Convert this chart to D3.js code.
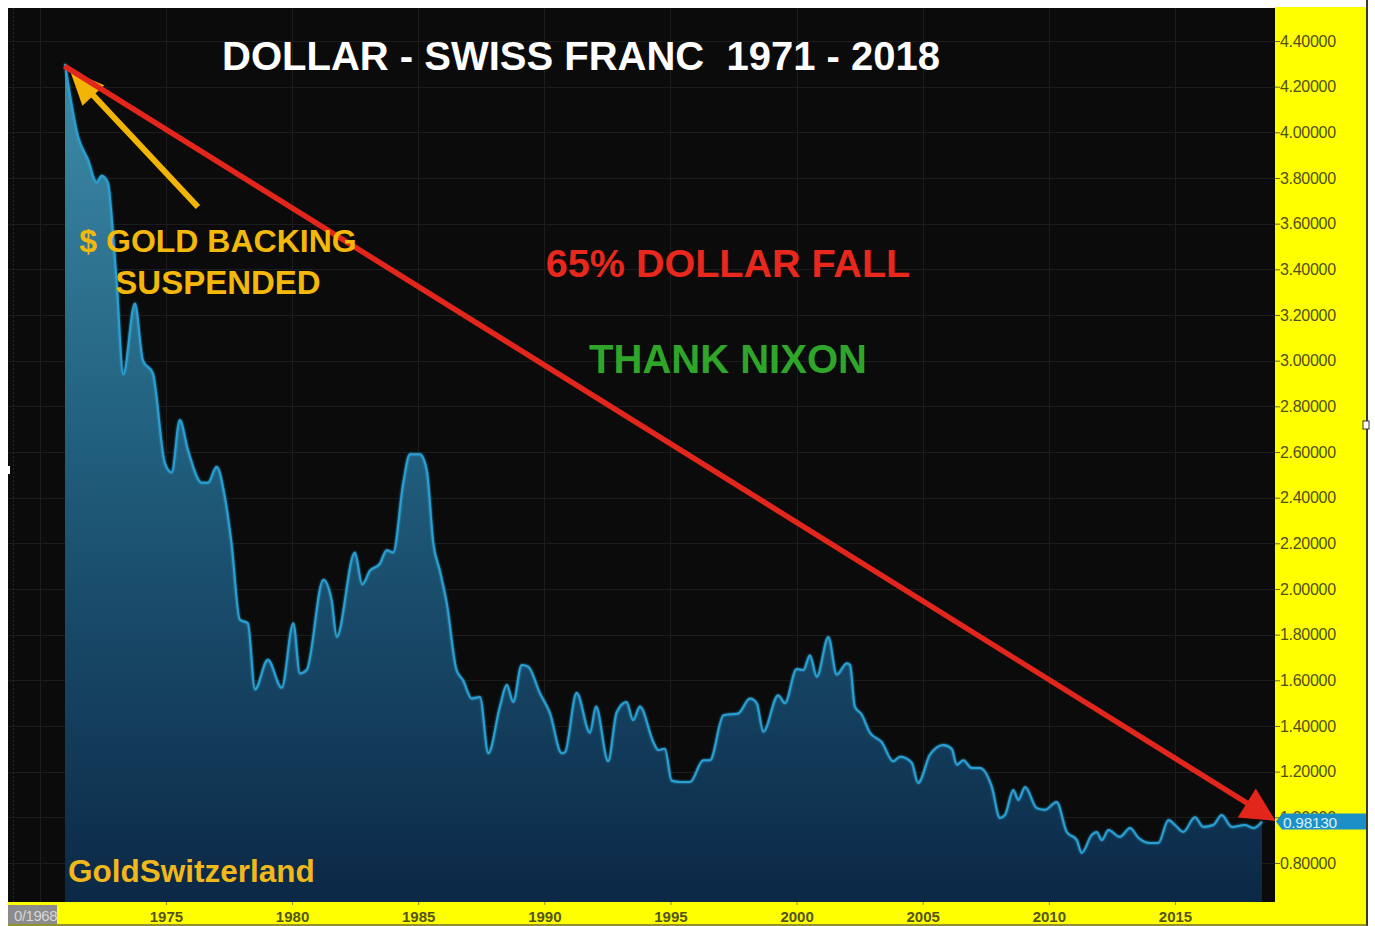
<!DOCTYPE html>
<html>
<head>
<meta charset="utf-8">
<script src="https://cdn.jsdelivr.net/npm/d3@7"></script>
<style>
  html, body { margin: 0; padding: 0; background: #ffffff; }
  svg { display: block; }
  text { font-family: "Liberation Sans", Arial, Helvetica, sans-serif; }
</style>
</head>
<body>
<svg id="chart" width="1375" height="926"></svg>
<script>
// ---- DATA ----
const years = [
  1971.00, 1971.52, 1971.91, 1972.25, 1972.45, 1972.70, 1972.90, 1973.05, 1973.31, 1973.77,
  1974.09, 1974.48, 1974.96, 1975.23, 1975.55, 1975.87, 1976.42, 1976.67, 1977.01, 1977.34,
  1977.60, 1977.93, 1978.25, 1978.53, 1979.04, 1979.59, 1980.05, 1980.31, 1980.58, 1981.24,
  1981.57, 1981.77, 1982.49, 1982.78, 1983.09, 1983.48, 1983.75, 1984.01, 1984.41, 1984.67,
  1985.07, 1985.34, 1985.60, 1985.86, 1986.13, 1986.52, 1986.78, 1987.12, 1987.45, 1987.78,
  1988.24, 1988.51, 1988.77, 1989.10, 1989.36, 1989.82, 1990.22, 1990.69, 1990.82, 1991.28,
  1991.81, 1992.05, 1992.53, 1992.87, 1993.26, 1993.52, 1993.79, 1994.32, 1994.51, 1994.78,
  1995.05, 1995.38, 1995.78, 1996.30, 1996.57, 1997.10, 1997.69, 1998.15, 1998.42, 1998.68,
  1999.27, 1999.54, 2000.00, 2000.27, 2000.53, 2000.80, 2001.26, 2001.59, 2001.99, 2002.12,
  2002.31, 2002.58, 2002.91, 2003.37, 2003.83, 2004.10, 2004.56, 2004.82, 2005.29, 2005.82,
  2006.15, 2006.35, 2006.61, 2006.94, 2007.27, 2007.74, 2008.06, 2008.26, 2008.59, 2008.79,
  2009.06, 2009.52, 2009.85, 2010.31, 2010.71, 2011.11, 2011.30, 2011.70, 2011.90, 2012.10,
  2012.36, 2012.82, 2013.22, 2013.55, 2014.01, 2014.34, 2014.74, 2015.00, 2015.33, 2015.79,
  2016.12, 2016.52, 2016.85, 2017.25, 2017.78, 2018.12, 2018.45
];
const rates = [
  4.300, 3.980, 3.880, 3.780, 3.810, 3.780, 3.560, 3.340, 2.940, 3.250,
  3.000, 2.945, 2.550, 2.510, 2.740, 2.610, 2.465, 2.465, 2.535, 2.400,
  2.200, 1.865, 1.850, 1.560, 1.690, 1.567, 1.850, 1.630, 1.645, 2.040,
  1.950, 1.790, 2.160, 2.020, 2.080, 2.110, 2.170, 2.160, 2.465, 2.590,
  2.590, 2.520, 2.200, 2.080, 1.940, 1.645, 1.600, 1.520, 1.527, 1.280,
  1.485, 1.580, 1.505, 1.667, 1.660, 1.545, 1.457, 1.280, 1.285, 1.545,
  1.370, 1.485, 1.245, 1.460, 1.505, 1.425, 1.485, 1.330, 1.295, 1.300,
  1.160, 1.155, 1.155, 1.250, 1.250, 1.447, 1.455, 1.520, 1.500, 1.375,
  1.535, 1.500, 1.650, 1.645, 1.710, 1.615, 1.790, 1.625, 1.675, 1.667,
  1.485, 1.450, 1.370, 1.330, 1.245, 1.265, 1.240, 1.150, 1.275, 1.317,
  1.300, 1.230, 1.250, 1.216, 1.216, 1.133, 0.997, 1.010, 1.120, 1.076,
  1.133, 1.040, 1.033, 1.067, 0.936, 0.900, 0.844, 0.923, 0.936, 0.900,
  0.944, 0.914, 0.953, 0.910, 0.887, 0.887, 0.988, 0.966, 0.936, 1.000,
  0.958, 0.966, 1.010, 0.958, 0.966, 0.953, 0.9813
];
const lastValue = "0.98130";
const yTickValues = [0.8, 1.0, 1.2, 1.4, 1.6, 1.8, 2.0, 2.2, 2.4, 2.6, 2.8, 3.0, 3.2, 3.4, 3.6, 3.8, 4.0, 4.2, 4.4];
const xTickValues = [1975, 1980, 1985, 1990, 1995, 2000, 2005, 2010, 2015];
const xGridValues = [1970, 1975, 1980, 1985, 1990, 1995, 2000, 2005, 2010, 2015];
const firstDateLabel = "0/1968";
const titleText = "DOLLAR - SWISS FRANC  1971 - 2018";
const goldText = ["$ GOLD BACKING", "SUSPENDED"];
const fallText = "65% DOLLAR FALL";
const nixonText = "THANK NIXON";
const brandText = "GoldSwitzerland";
// annotation arrows (in data units: [year, rate])
const trendArrow = [[1970.98, 4.29], [2018.99, 0.984]];
const goldArrow = [[1976.27, 3.673], [1971.20, 4.27]];

// ---- LAYOUT ----
const plot = { left: 8, right: 1275, top: 8, bottom: 902 };
const svg = d3.select("#chart");

const x = d3.scaleLinear().domain([1968.74, 2018.965]).range([plot.left, plot.right]);
const y = d3.scaleLinear().domain([0.629, 4.5445]).range([plot.bottom, plot.top]);

const data = years.map((t, i) => ({ t, v: rates[i] }));

// plot background
svg.append("rect").attr("x", plot.left).attr("y", plot.top)
  .attr("width", plot.right - plot.left).attr("height", plot.bottom - plot.top)
  .attr("fill", "#0b0b0b");

// grid
const grid = svg.append("g").attr("stroke", "#1c1c1c").attr("stroke-width", 1);
yTickValues.forEach(v => {
  grid.append("line").attr("x1", plot.left).attr("x2", plot.right)
    .attr("y1", Math.round(y(v)) + 0.5).attr("y2", Math.round(y(v)) + 0.5);
});
xGridValues.forEach(t => {
  grid.append("line").attr("y1", plot.top).attr("y2", plot.bottom)
    .attr("x1", Math.round(x(t)) + 0.5).attr("x2", Math.round(x(t)) + 0.5);
});
svg.append("line").attr("x1", 13.5).attr("x2", 13.5).attr("y1", plot.top).attr("y2", plot.bottom)
  .attr("stroke", "#262626").attr("stroke-dasharray", "2,2");

// gradient
const defs = svg.append("defs");
const grad = defs.append("linearGradient").attr("id", "areaGrad")
  .attr("gradientUnits", "userSpaceOnUse")
  .attr("x1", 0).attr("x2", 0).attr("y1", y(4.3)).attr("y2", plot.bottom);
grad.append("stop").attr("offset", "0%").attr("stop-color", "#3d8ca8");
grad.append("stop").attr("offset", "45%").attr("stop-color", "#215f7e");
grad.append("stop").attr("offset", "100%").attr("stop-color", "#0b2846");

const glow = defs.append("filter").attr("id", "glow").attr("x", "-5%").attr("y", "-5%").attr("width", "110%").attr("height", "110%");
glow.append("feGaussianBlur").attr("stdDeviation", 1.2).attr("result", "b");
const fm = glow.append("feMerge");
fm.append("feMergeNode").attr("in", "b");
fm.append("feMergeNode").attr("in", "SourceGraphic");

const area = d3.area().x(d => x(d.t)).y0(plot.bottom).y1(d => y(d.v)).curve(d3.curveMonotoneX);
const line = d3.line().x(d => x(d.t)).y(d => y(d.v)).curve(d3.curveMonotoneX);

svg.append("path").datum(data).attr("d", area).attr("fill", "url(#areaGrad)");
svg.append("path").datum(data).attr("d", line).attr("fill", "none")
  .attr("stroke", "#2b9fd2").attr("stroke-width", 2).attr("filter", "url(#glow)");

// ---- arrows ----
function arrow(pts, color, width, headLen, headHalf) {
  const [x0, y0] = [x(pts[0][0]), y(pts[0][1])];
  const [x1, y1] = [x(pts[1][0]), y(pts[1][1])];
  const len = Math.hypot(x1 - x0, y1 - y0);
  const ux = (x1 - x0) / len, uy = (y1 - y0) / len;
  const bx = x1 - ux * headLen, by = y1 - uy * headLen;
  svg.append("line").attr("x1", x0).attr("y1", y0).attr("x2", bx + ux * 2).attr("y2", by + uy * 2)
    .attr("stroke", color).attr("stroke-width", width).attr("stroke-linecap", "butt");
  svg.append("path")
    .attr("d", `M${x1},${y1}L${bx - uy * headHalf},${by + ux * headHalf}L${bx + uy * headHalf},${by - ux * headHalf}Z`)
    .attr("fill", color);
}
arrow(goldArrow, "#f3b505", 6, 34, 15);
arrow(trendArrow, "#e2261b", 5.5, 34, 17);

// ---- texts ----
svg.append("text").attr("x", 581).attr("y", 70).attr("text-anchor", "middle")
  .style("white-space", "pre").attr("xml:space", "preserve")
  .attr("font-size", 40).attr("font-weight", "bold").attr("fill", "#ffffff").text(titleText);
svg.append("text").attr("x", 218).attr("y", 252).attr("text-anchor", "middle")
  .attr("font-size", 32).attr("font-weight", "bold").attr("fill", "#f3b80a").text(goldText[0]);
svg.append("text").attr("x", 218).attr("y", 294).attr("text-anchor", "middle")
  .attr("font-size", 33).attr("font-weight", "bold").attr("fill", "#f3b80a").text(goldText[1]);
svg.append("text").attr("x", 728).attr("y", 277).attr("text-anchor", "middle")
  .attr("font-size", 39.5).attr("font-weight", "bold").attr("fill", "#e8281c").text(fallText);
svg.append("text").attr("x", 728).attr("y", 373).attr("text-anchor", "middle")
  .attr("font-size", 40).attr("font-weight", "bold").attr("fill", "#2fa52a").text(nixonText);
svg.append("text").attr("x", 68).attr("y", 882)
  .attr("font-size", 31.5).attr("font-weight", "bold").attr("fill", "#f1b81c").text(brandText);

// ---- right axis panel ----
svg.append("rect").attr("x", plot.right).attr("y", plot.top - 1).attr("width", 1367 - plot.right).attr("height", 926 - plot.top + 1)
  .attr("fill", "#ffff00");
// bottom axis panel
svg.append("rect").attr("x", plot.left).attr("y", plot.bottom).attr("width", 1367 - plot.left).attr("height", 926 - plot.bottom)
  .attr("fill", "#ffff00");
svg.append("line").attr("x1", 1367).attr("x2", 1367).attr("y1", 0).attr("y2", 926)
  .attr("stroke", "#3a3a2a").attr("stroke-width", 2);
svg.append("line").attr("x1", plot.left).attr("x2", 1367).attr("y1", 925).attr("y2", 925)
  .attr("stroke", "#6d6d40").attr("stroke-width", 1.5);

const yAxis = d3.axisRight(y).tickValues(yTickValues).tickSize(5).tickPadding(0).tickFormat(d3.format(".5f"));
const gy = svg.append("g").attr("transform", `translate(${plot.right},0)`).call(yAxis);
gy.select(".domain").remove();
gy.selectAll(".tick line").attr("stroke", "#6b6b2a");
gy.selectAll(".tick text").attr("fill", "#50501a").attr("font-size", 16).attr("letter-spacing", "-0.3")
  .attr("font-family", "'Liberation Sans', Arial, sans-serif");

const xAxis = d3.axisBottom(x).tickValues(xTickValues).tickSize(3).tickPadding(6).tickFormat(d3.format("d"));
const gx = svg.append("g").attr("transform", `translate(0,${plot.bottom})`).call(xAxis);
gx.select(".domain").remove();
gx.selectAll(".tick line").attr("stroke", "#8a8a30");
gx.selectAll(".tick text").attr("fill", "#55551a").attr("font-size", 15).attr("font-weight", "bold")
  .attr("font-family", "'Liberation Sans', Arial, sans-serif");

// first date label box
svg.append("rect").attr("x", plot.left).attr("y", 905).attr("width", 49).attr("height", 19).attr("fill", "#8c8c8c");
svg.append("text").attr("x", 57).attr("y", 921).attr("text-anchor", "end").attr("font-size", 15)
  .attr("letter-spacing", "-0.5").attr("fill", "#d6d6d6").text(firstDateLabel);

// last value tag
const tagY = y(rates[rates.length - 1]);
svg.append("path")
  .attr("d", `M${plot.right + 1},${tagY}L${plot.right + 7},${tagY - 8}L1366,${tagY - 8}L1366,${tagY + 8}L${plot.right + 7},${tagY + 8}Z`)
  .attr("fill", "#1b8fc6");
svg.append("text").attr("x", plot.right + 8).attr("y", tagY + 6).attr("font-size", 15.5)
  .attr("letter-spacing", "-0.3").attr("fill", "#d9f0ff").text(lastValue);

// small border notches
svg.append("rect").attr("x", 1363).attr("y", 421).attr("width", 6).attr("height", 8).attr("fill", "#ffffff").attr("stroke", "#333").attr("stroke-width", 1);
svg.append("rect").attr("x", 6).attr("y", 466).attr("width", 4).attr("height", 8).attr("fill", "#ffffff");
</script>
</body>
</html>
